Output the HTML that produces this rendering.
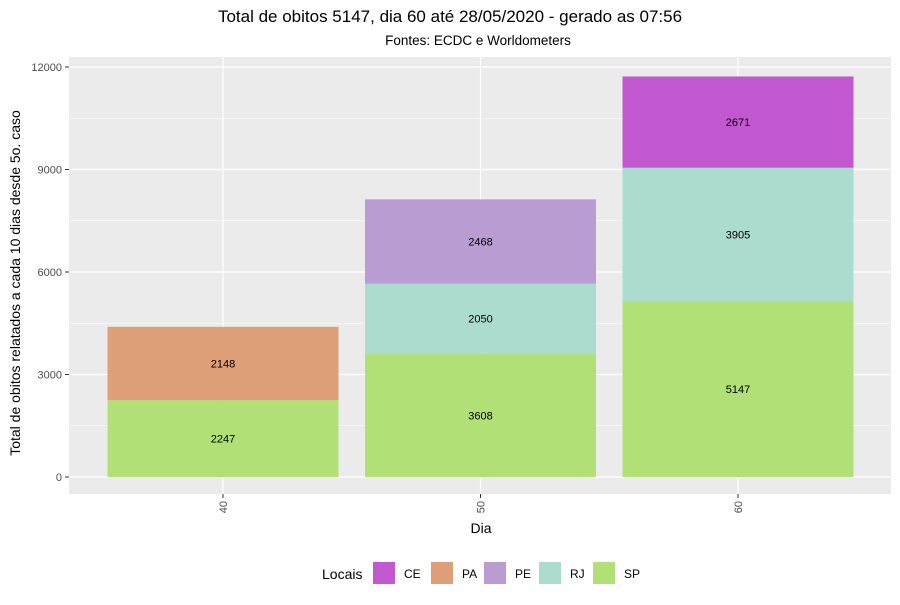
<!DOCTYPE html>
<html><head><meta charset="utf-8"><style>
body{margin:0;background:#fff;font-family:"Liberation Sans",Arial,sans-serif}
</style></head><body>
<svg id="chart" width="900" height="600" xmlns="http://www.w3.org/2000/svg" font-family="Liberation Sans, Arial, sans-serif">
<text x="450" y="22" text-anchor="middle" font-size="17" fill="#000">Total de obitos 5147, dia 60 até 28/05/2020 - gerado as 07:56</text>
<text x="478" y="45" text-anchor="middle" font-size="13.5" fill="#000">Fontes: ECDC e Worldometers</text>
<rect x="69" y="57" width="822" height="437" fill="#EBEBEB"/>
<g id="grid"></g>
<g id="bars"></g>
<g id="axes"></g>
<text transform="translate(20,283) rotate(-90)" text-anchor="middle" font-size="14">Total de obitos relatados a cada 10 dias desde 5o. caso</text>
<text x="481" y="533" text-anchor="middle" font-size="14">Dia</text>
<g id="legend">
<text x="322" y="579" font-size="14">Locais</text>
</g>
</svg>
<script>
const categories=["40","50","60"];
const seriesNames=["SP","RJ","PA","PE","CE"];
const SP=[2247,3608,5147];
const RJ=[0,2050,3905];
const PA=[2148,0,0];
const PE=[0,2468,0];
const CE=[0,0,2671];
const yTicks=[0,3000,6000,9000,12000];
const legendOrder=["CE","PA","PE","RJ","SP"];
const colors={CE:"#C158D0",PA:"#DE9F79",PE:"#B99CD1",RJ:"#ACDBCF",SP:"#B0E076"};
const values={SP,RJ,PA,PE,CE};
const NS="http://www.w3.org/2000/svg";
const y=v=>477-v*410/12000;
const x=i=>223+i*257.5;
const bw=231;
function mk(tag,attrs,parent,txt){const e=document.createElementNS(NS,tag);for(const k in attrs)e.setAttribute(k,attrs[k]);if(txt!=null)e.textContent=txt;parent.appendChild(e);return e;}
const grid=document.getElementById('grid'),bars=document.getElementById('bars'),axes=document.getElementById('axes'),legend=document.getElementById('legend');
for(let i=0;i<yTicks.length-1;i++){const m=(yTicks[i]+yTicks[i+1])/2;const g=mk('line',{x1:69,x2:891,y1:y(m),y2:y(m),stroke:'#fff','stroke-width':0.6},grid);

}
yTicks.forEach(t=>{const g=mk('line',{x1:69,x2:891,y1:y(t),y2:y(t),stroke:'#fff','stroke-width':1.2},grid);


const tk=mk('line',{x1:65,x2:69,y1:y(t),y2:y(t),stroke:'#333','stroke-width':1},axes);


const l=mk('text',{x:62,y:y(t)+4,'text-anchor':'end','font-size':11,fill:'#4D4D4D'},axes,String(t));

});
categories.forEach((c,i)=>{const g=mk('line',{x1:x(i),x2:x(i),y1:57,y2:494,stroke:'#fff','stroke-width':1.2},grid);


const tk=mk('line',{x1:x(i),x2:x(i),y1:494,y2:498,stroke:'#333'},axes);


const l=mk('text',{transform:`translate(${x(i)+4},501) rotate(-90)`,'text-anchor':'end','font-size':11,fill:'#4D4D4D'},axes,c);


let base=0;
seriesNames.forEach(s=>{const v=values[s][i];if(!v)return;
const r=mk('rect',{x:x(i)-bw/2,y:y(base+v),width:bw,height:y(base)-y(base+v),fill:colors[s]},bars);


const t=mk('text',{x:x(i),y:y(base+v/2)+4,'text-anchor':'middle','font-size':11,fill:'#000'},bars,String(v));


base+=v;});});
const lx=[373,431,484,539,593];
legendOrder.forEach((s,i)=>{const r=mk('rect',{x:lx[i],y:562,width:22,height:22,fill:colors[s]},legend);


const t=mk('text',{x:lx[i]+31,y:578,'font-size':12},legend,s);

});
</script>
</body></html>
